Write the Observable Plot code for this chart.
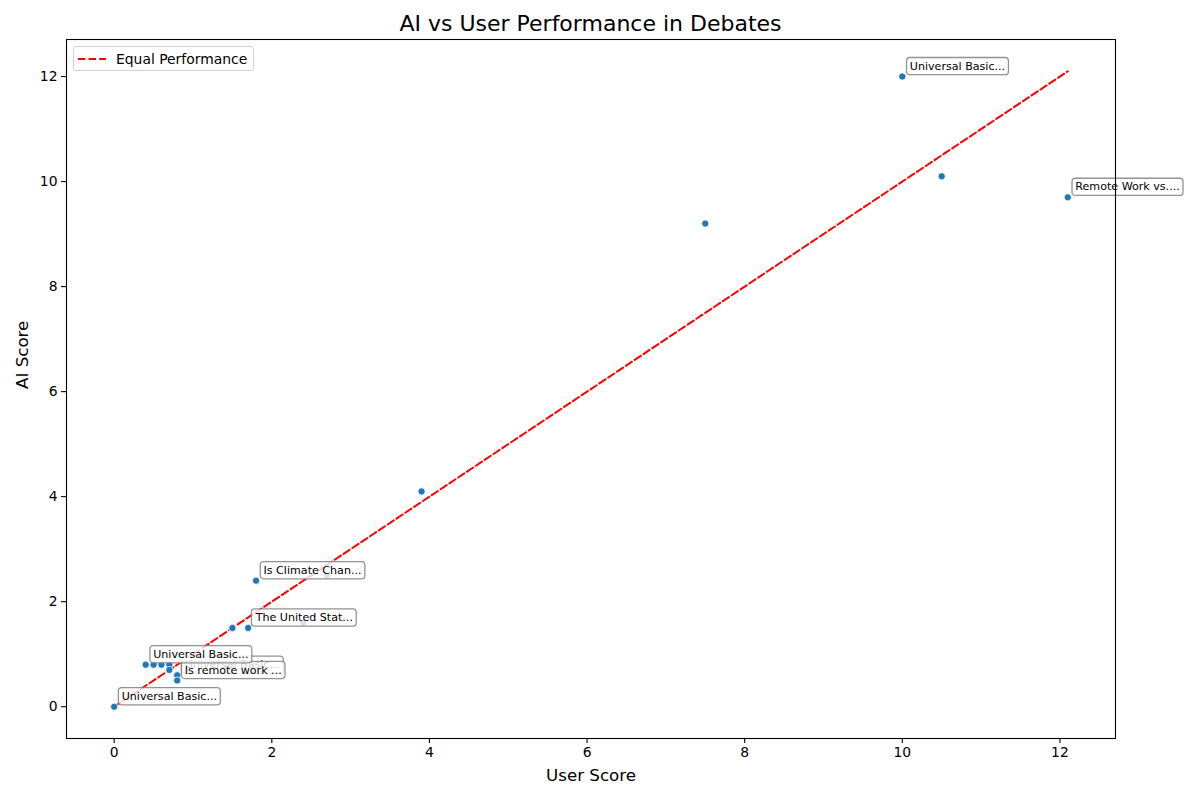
<!DOCTYPE html>
<html>
<head>
<meta charset="utf-8">
<script src="https://cdn.jsdelivr.net/npm/d3@7"></script>
<script src="https://cdn.jsdelivr.net/npm/@observablehq/plot@0.6"></script>
<style>
  body { margin: 0; background: #fff; font-family: "DejaVu Sans", sans-serif; }
  #wrap { position: relative; width: 1200px; height: 800px; overflow: hidden; }
  #title { position: absolute; left: 66px; width: 1049px; top: 10px; text-align: center; font-size: 22px; line-height: 28px; color: #000; }
  #chart { position: absolute; left: 0; top: 34px; }
  #legend { position: absolute; left: 73px; top: 46px; width: 181px; height: 25px; border: 1px solid #d3d3d3; border-radius: 3px;
            background: rgba(255,255,255,0.8); box-sizing: border-box; display: flex; align-items: center; font-size: 13.9px; color: #000; z-index: 2; }
  #legend svg { margin-left: 4px; margin-right: 10px; }
</style>
</head>
<body>
<div id="wrap">
  <div id="title">AI vs User Performance in Debates</div>
  <div id="chart"></div>
  <div id="legend"><svg width="28" height="10"><line x1="0" y1="5" x2="28" y2="5" stroke="red" stroke-width="2" stroke-dasharray="7.4,3.2"/></svg><span>Equal Performance</span></div>
</div>
<script>
// ---- data ----
const userScores = [0, 0.8, 0.8, 0.4, 1.7, 1.8, 10, 12.1, 0.5, 0.6, 0.7, 0.7, 1.5, 2.4, 2.7, 3.9, 7.5, 10.5];
const aiScores   = [0, 0.6, 0.5, 0.8, 1.5, 2.4, 12, 9.7, 0.8, 0.8, 0.8, 0.7, 1.5, 1.6, 2.5, 4.1, 9.2, 10.1];
const topicLabels = ["Universal Basic...", "Universal Basic...", "Is remote work ...", "Universal Basic...",
                     "The United Stat...", "Is Climate Chan...", "Universal Basic...", "Remote Work vs....",
                     "", "", "", "", "", "", "", "", "", ""];
const equalLine = [0, 12.1];
const xTicks = [0, 2, 4, 6, 8, 10, 12];
const yTicks = [0, 2, 4, 6, 8, 10, 12];

const points = userScores.map((u, i) => ({user: u, ai: aiScores[i], label: topicLabels[i]}));
const labeled = points.filter(d => d.label !== "");
const linePts = equalLine.map(v => ({user: v, ai: v}));

const chart = Plot.plot({
  width: 1200,
  height: 766,
  marginLeft: 66,
  marginRight: 85,
  marginTop: 5,
  marginBottom: 62,
  style: {fontFamily: "DejaVu Sans", fontSize: "13.9px", color: "black", background: "white", overflow: "visible"},
  x: {domain: [-0.605, 12.705]},
  y: {domain: [-0.605, 12.705]},
  marks: [
    Plot.axisX({ticks: xTicks, tickSize: 5, tickPadding: 4, label: null, strokeWidth: 1.1, fontSize: 13.9}),
    Plot.axisY({ticks: yTicks, tickSize: 5, tickPadding: 4, label: null, strokeWidth: 1.1, fontSize: 13.9}),
    Plot.text(["User Score"], {frameAnchor: "bottom", dy: 37, lineAnchor: "middle", fontSize: 16.7}),
    Plot.text(["AI Score"], {frameAnchor: "left", dx: -44, rotate: -90, lineAnchor: "middle", fontSize: 16.7}),
    Plot.line(linePts, {x: "user", y: "ai", stroke: "red", strokeWidth: 2, strokeDasharray: "7.4,3.2"}),
    Plot.dot(points, {x: "user", y: "ai", r: 3.6, fill: "#1f77b4", stroke: "white", strokeWidth: 0.8}),
    Plot.text(labeled, {x: "user", y: "ai", text: "label", dx: 7.5, dy: -10.5, textAnchor: "start", lineAnchor: "middle",
                        fontSize: 11.1, fill: "black"}),
    Plot.frame({stroke: "black", strokeWidth: 1.1})
  ]
});
document.getElementById("chart").appendChild(chart);

// add rounded, semi-transparent boxes behind each annotation text
const labelSet = new Set(topicLabels.filter(s => s !== ""));
chart.querySelectorAll("text").forEach(t => {
  if (!labelSet.has(t.textContent)) return;
  const bb = t.getBBox();
  const pad = 3.3, th = 10.6;
  const r = document.createElementNS("http://www.w3.org/2000/svg", "rect");
  r.setAttribute("x", bb.x - pad);
  r.setAttribute("y", bb.y + (bb.height - th) / 2 - pad);
  r.setAttribute("width", bb.width + 2 * pad);
  r.setAttribute("height", th + 2 * pad);
  r.setAttribute("rx", 3.3);
  r.setAttribute("fill", "white");
  r.setAttribute("fill-opacity", 0.8);
  r.setAttribute("stroke", "#808080");
  r.setAttribute("stroke-opacity", 0.85);
  r.setAttribute("stroke-width", 1.3);
  const tr = t.getAttribute("transform");
  if (tr) r.setAttribute("transform", tr);
  t.parentNode.insertBefore(r, t);
});
</script>
</body>
</html>
